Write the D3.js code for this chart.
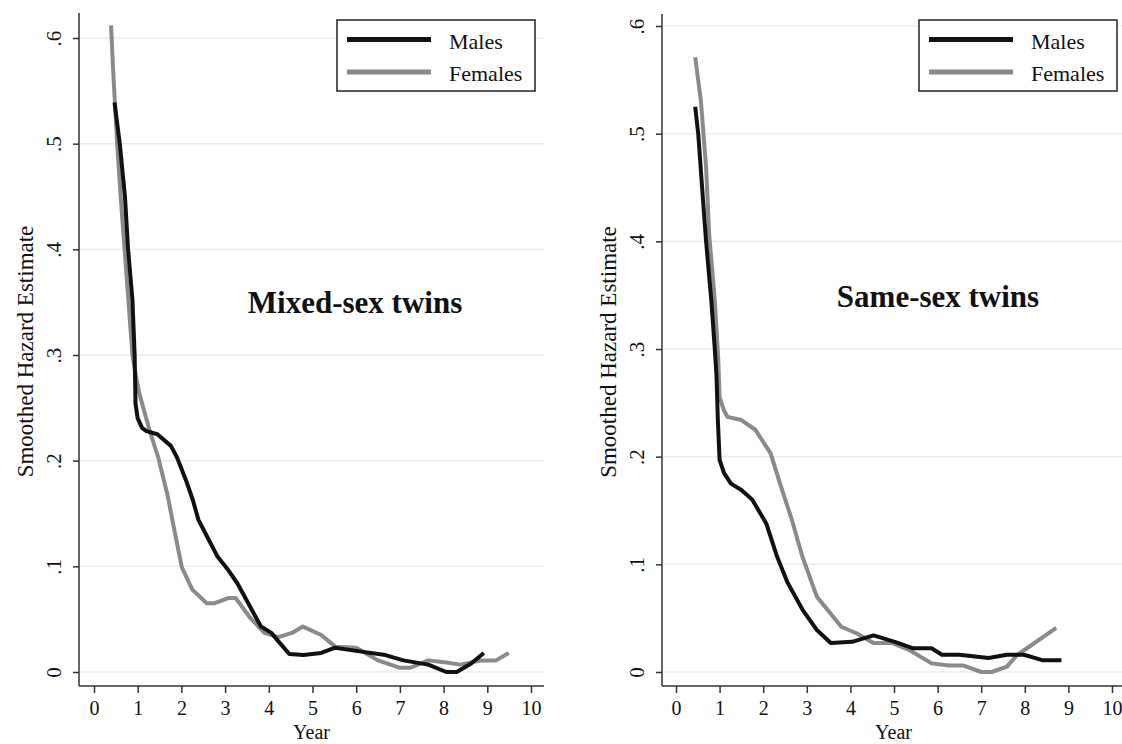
<!DOCTYPE html>
<html>
<head>
<meta charset="utf-8">
<script src="https://cdn.jsdelivr.net/npm/d3@7"></script>
<style>
  body { margin: 0; background: #fff; }
  svg text { font-family: "Liberation Serif", "Times New Roman", serif; fill: #111; }
</style>
</head>
<body>
<div id="container"></div>
<script>
/* DATA - [year, smoothed hazard] */
const mixedMales = [[0.47,0.539],[0.59,0.50],[0.71,0.449],[0.78,0.40],[0.88,0.352],[0.93,0.30],[0.95,0.254],
  [1.0,0.240],[1.1,0.231],[1.2,0.228],[1.45,0.225],[1.76,0.214],[1.9,0.203],[2.1,0.182],[2.26,0.163],
  [2.39,0.144],[2.59,0.128],[2.83,0.109],[3.08,0.096],[3.28,0.084],[3.57,0.062],[3.82,0.043],[4.06,0.037],
  [4.22,0.029],[4.47,0.017],[4.79,0.016],[5.2,0.018],[5.52,0.023],[6.0,0.020],[6.67,0.016],[7.08,0.011],
  [7.65,0.007],[8.06,0.0],[8.3,0.0],[8.63,0.008],[8.92,0.018]];
const mixedFemales = [[0.39,0.612],[0.45,0.56],[0.53,0.50],[0.61,0.45],[0.70,0.40],[0.79,0.35],[0.88,0.30],
  [0.96,0.28],[1.03,0.265],[1.1,0.254],[1.27,0.229],[1.47,0.203],[1.69,0.166],[1.84,0.134],[2.01,0.099],
  [2.25,0.078],[2.58,0.065],[2.75,0.065],[3.07,0.070],[3.24,0.070],[3.56,0.052],[3.9,0.037],[4.22,0.033],
  [4.53,0.037],[4.78,0.043],[5.2,0.035],[5.52,0.024],[6.0,0.023],[6.5,0.011],[7.0,0.004],[7.24,0.004],
  [7.65,0.011],[8.06,0.009],[8.38,0.007],[8.87,0.011],[9.2,0.011],[9.49,0.018]];
const sameMales = [[0.44,0.525],[0.51,0.50],[0.62,0.438],[0.69,0.40],[0.81,0.345],[0.89,0.30],[0.93,0.274],
  [0.96,0.234],[1.0,0.197],[1.1,0.185],[1.26,0.175],[1.5,0.169],[1.75,0.16],[2.07,0.138],[2.32,0.107],
  [2.56,0.083],[2.9,0.058],[3.23,0.039],[3.55,0.027],[4.04,0.028],[4.53,0.034],[5.02,0.028],[5.44,0.022],
  [5.86,0.022],[6.1,0.016],[6.5,0.016],[7.17,0.013],[7.59,0.016],[7.98,0.016],[8.4,0.011],[8.84,0.011]];
const sameFemales = [[0.44,0.571],[0.57,0.531],[0.69,0.469],[0.76,0.407],[0.89,0.345],[0.97,0.29],[1.0,0.255],
  [1.1,0.243],[1.18,0.237],[1.5,0.234],[1.82,0.225],[2.17,0.203],[2.41,0.172],[2.66,0.141],[2.9,0.107],
  [3.23,0.07],[3.47,0.058],[3.79,0.042],[4.14,0.036],[4.53,0.027],[4.95,0.027],[5.37,0.02],[5.86,0.008],
  [6.26,0.006],[6.6,0.006],[7.0,0.0],[7.24,0.0],[7.59,0.005],[7.83,0.016],[8.08,0.023],[8.4,0.032],[8.72,0.041]];

const seriesNames = ["Males", "Females"];
const panelTitles = ["Mixed-sex twins", "Same-sex twins"];
const xTicks = [0, 1, 2, 3, 4, 5, 6, 7, 8, 9, 10];
const yTicks = [0, 0.1, 0.2, 0.3, 0.4, 0.5, 0.6];
const yTickLabels = ["0", ".1", ".2", ".3", ".4", ".5", ".6"];
const xTitle = "Year";
const yTitle = "Smoothed Hazard Estimate";

/* LAYOUT - pixel boxes of the two Stata panels */
const W = 1122, H = 744;
const colors = { Males: "#111111", Females: "#8a8a8a" };
const panels = [
  { title: panelTitles[0], data: [mixedMales, mixedFemales],
    left: 79, right: 544, top: 13, bottom: 686,
    x0: 94, x10: 531, y0: 672, y6: 38,
    legend: { x: 337, y: 20, w: 198, h: 71 }, titleX: 355, titleY: 313 },
  { title: panelTitles[1], data: [sameMales, sameFemales],
    left: 662, right: 1125, top: 14, bottom: 686,
    x0: 676, x10: 1112, y0: 672, y6: 26,
    legend: { x: 919, y: 20, w: 198, h: 71 }, titleX: 938, titleY: 307 }
];

const svg = d3.select("#container").append("svg")
  .attr("width", W)
  .attr("height", H);

panels.forEach(p => {
  // SCALES
  const x = d3.scaleLinear().domain([0, 10]).range([p.x0, p.x10]);
  const y = d3.scaleLinear().domain([0, 0.6]).range([p.y0, p.y6]);
  const g = svg.append("g");

  // GRIDLINES
  g.selectAll(".grid")
    .data(yTicks)
    .join("line")
    .attr("x1", p.left + 1).attr("x2", p.right)
    .attr("y1", d => y(d)).attr("y2", d => y(d))
    .attr("stroke", "#e6efef")
    .attr("stroke-width", 1.5);

  // Y AXIS
  const yAxis = g.append("g")
    .attr("transform", "translate(" + p.left + ",0)")
    .call(d3.axisLeft(y).tickValues(yTicks).tickSize(6)
      .tickFormat((d, i) => yTickLabels[i]));
  yAxis.select(".domain").remove();
  yAxis.selectAll("line").attr("stroke", "#333").attr("stroke-width", 1.5);
  yAxis.selectAll("text")
    .attr("x", 0).attr("y", -18).attr("dy", 0)
    .attr("transform", "rotate(-90)")
    .style("text-anchor", "middle")
    .style("font-size", "21px")
    .style("font-family", "Liberation Serif");

  // X AXIS
  const xAxis = g.append("g")
    .attr("transform", "translate(0," + p.bottom + ")")
    .call(d3.axisBottom(x).tickValues(xTicks).tickSize(7));
  xAxis.select(".domain").remove();
  xAxis.selectAll("line").attr("stroke", "#333").attr("stroke-width", 1.5);
  xAxis.selectAll("text")
    .attr("y", 29).attr("dy", 0)
    .style("font-size", "20px")
    .style("font-family", "Liberation Serif");

  // AXIS LINES
  g.append("line")
    .attr("x1", p.left).attr("x2", p.left)
    .attr("y1", p.top).attr("y2", p.bottom)
    .attr("stroke", "#333").attr("stroke-width", 1.5);
  g.append("line")
    .attr("x1", p.left).attr("x2", p.right)
    .attr("y1", p.bottom).attr("y2", p.bottom)
    .attr("stroke", "#333").attr("stroke-width", 1.5);

  // AXIS TITLES
  g.append("text")
    .attr("transform", "translate(" + (p.left - 46) + "," + ((p.top + p.bottom) / 2 + 2) + ") rotate(-90)")
    .style("text-anchor", "middle")
    .style("font-size", "23px")
    .text(yTitle);
  g.append("text")
    .attr("x", (p.left + Math.min(p.right, p.left + 465)) / 2)
    .attr("y", 739)
    .style("text-anchor", "middle")
    .style("font-size", "20px")
    .text(xTitle);

  // LINES - females under males
  const line = d3.line()
    .x(d => x(d[0]))
    .y(d => y(d[1]));
  [1, 0].forEach(i => {
    g.append("path")
      .datum(p.data[i])
      .attr("fill", "none")
      .attr("stroke", colors[seriesNames[i]])
      .attr("stroke-width", 4)
      .attr("stroke-linejoin", "round")
      .attr("d", line);
  });

  // PANEL TITLE
  g.append("text")
    .attr("x", p.titleX).attr("y", p.titleY)
    .style("text-anchor", "middle")
    .style("font-size", "31px")
    .style("font-weight", "bold")
    .text(p.title);

  // LEGEND
  const lg = g.append("g").attr("transform", "translate(" + p.legend.x + "," + p.legend.y + ")");
  lg.append("rect")
    .attr("width", p.legend.w).attr("height", p.legend.h)
    .attr("fill", "#fff").attr("stroke", "#222").attr("stroke-width", 1.5);
  seriesNames.forEach((name, i) => {
    const ly = 19.5 + i * 32.5;
    lg.append("line")
      .attr("x1", 10).attr("x2", 94)
      .attr("y1", ly).attr("y2", ly)
      .attr("stroke", colors[name]).attr("stroke-width", 5);
    lg.append("text")
      .attr("x", 112).attr("y", ly + 9)
      .style("font-size", "22px")
      .text(name);
  });
});
</script>
</body>
</html>
